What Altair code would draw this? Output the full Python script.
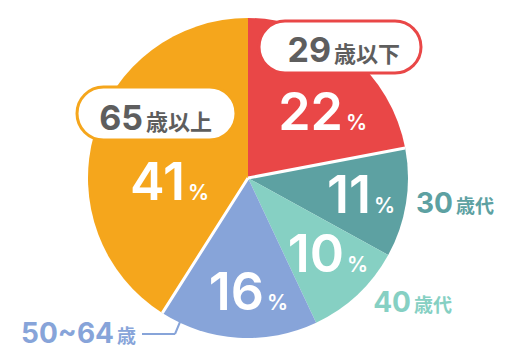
import altair as alt
import pandas as pd

# Age groups (number part + unit part) and their shares in percent
age_nums = ["29", "30", "40", "50~64", "65"]
age_units = ["歳以下", "歳代", "歳代", "歳", "歳以上"]
shares = [22, 11, 10, 16, 41]
colors = ["#E94747", "#5DA1A2", "#86D0C3", "#87A4D9", "#F5A61C"]

groups = [n + u for n, u in zip(age_nums, age_units)]
NUM_FONT = "Inter"
JP_FONT = "Noto Sans CJK JP"
GRAY = "#5E5E5E"
CX, CY, R = 248, 178, 160

df = pd.DataFrame({"group": groups, "share": shares, "order": list(range(len(groups)))})
theta_scale = alt.Scale(domain=[0, 100])

pie = alt.Chart(df).mark_arc(outerRadius=R).encode(
    theta=alt.Theta("share:Q", stack=True, scale=theta_scale),
    color=alt.Color("group:N", scale=alt.Scale(domain=groups, range=colors), legend=None),
    order=alt.Order("order:Q"),
    x=alt.value(CX),
    y=alt.value(CY),
)

# White separators on the 29歳以下/30歳代 and 50~64歳/65歳以上 boundaries
cum = pd.Series(shares).cumsum().tolist()
sep_df = pd.DataFrame({"at": [cum[0], cum[3]]})
seps = alt.Chart(sep_df).mark_arc(outerRadius=R, stroke="white", strokeWidth=3, fillOpacity=0).encode(
    theta=alt.Theta("at:Q", scale=theta_scale, stack=None),
    theta2="at:Q",
    x=alt.value(CX),
    y=alt.value(CY),
)


def text(t, x, y, size, color, align="left", font=NUM_FONT, weight=700):
    return alt.Chart(pd.DataFrame({"t": [t]})).mark_text(
        font=font, fontWeight=weight, fontSize=size, color=color, align=align, baseline="alphabetic"
    ).encode(text="t:N", x=alt.value(x), y=alt.value(y))


def pct(i, x, y, color="white"):
    return [text(str(shares[i]), x, y, 52, color, "right", weight=600), text("%", x + 3, y, 21, color, weight=600)]


def pill(x1, y1, x2, y2, color):
    h = y2 - y1
    return alt.Chart(pd.DataFrame({"k": [0]})).mark_rect(
        fill="white", stroke=color, strokeWidth=3, cornerRadius=h / 2
    ).encode(x=alt.value(x1), x2=alt.value(x2), y=alt.value(y1), y2=alt.value(y2))


def age(i, x, y, color, big=30, small=18):
    return [
        text(age_nums[i], x, y, big, color, "right"),
        text(age_units[i], x + 3, y, small, color, font=JP_FONT, weight="bold"),
    ]


# Leader line for 50~64歳
leader = pd.DataFrame({"x": [142, 175], "x2": [175, 180], "y": [334, 334], "y2": [334, 322]})
lead = alt.Chart(leader).mark_rule(color=colors[3], strokeWidth=2).encode(
    x=alt.X("x:Q", scale=None), x2="x2:Q", y=alt.Y("y:Q", scale=None), y2="y2:Q"
)

layers = [pie, seps, lead]
layers += [pill(259, 21, 421, 73, colors[0]), pill(77, 87, 236, 140, colors[4])]
layers += age(0, 331, 62, GRAY, 34, 22)
layers += age(4, 143, 130, GRAY, 34, 22)
layers += age(1, 453, 213, colors[1], 28, 19)
layers += age(2, 411, 312, colors[2], 28, 19)
layers += age(3, 114, 343, colors[3], 28, 19)
layers += pct(0, 343, 130)
layers += pct(4, 185, 200)
layers += pct(1, 371, 213)
layers += pct(2, 344, 272)
layers += pct(3, 264, 310)

chart = alt.layer(*layers).properties(
    width=518, height=360, padding=0, autosize="none"
).configure_view(stroke=None)

chart.save("out.html", embed_options={"renderer": "svg", "actions": False})
